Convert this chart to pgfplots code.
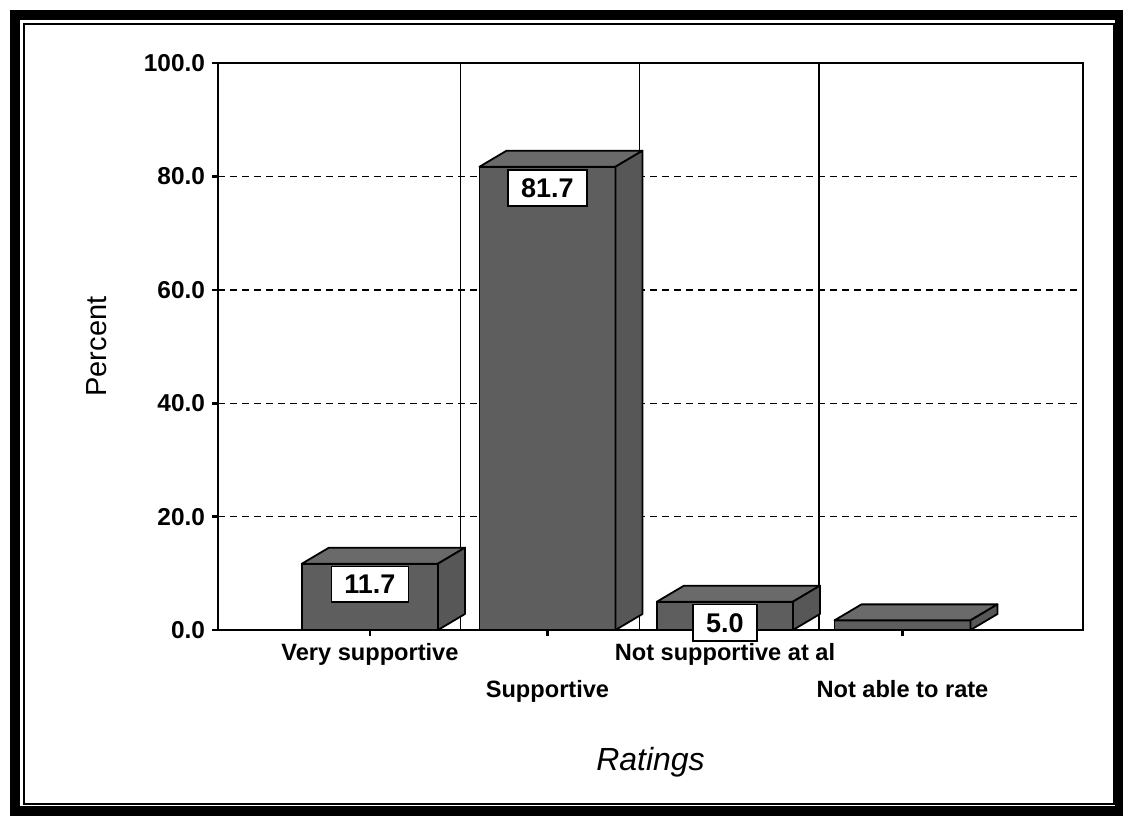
\documentclass[border=0pt]{standalone}
\usepackage{pgfplots}
\pgfplotsset{compat=1.18}
\usepackage{fontspec}
\setmainfont{Liberation Sans}
\definecolor{barfront}{HTML}{5E5E5E}
\definecolor{bartop}{HTML}{6A6A6A}
\definecolor{barside}{HTML}{575757}

\pgfdeclareplotmark{box3d}{%
  \pgfmathsetlengthmacro\bh{\barval*2.835pt}%
  \filldraw[fill=bartop, draw=black, line width=0.9pt, line join=round]
    (-34pt,0pt) -- (-20.5pt,8pt) -- (47.5pt,8pt) -- (34pt,0pt) -- cycle;
  \filldraw[fill=barside, draw=black, line width=0.9pt, line join=round]
    (34pt,0pt) -- (47.5pt,8pt) -- (47.5pt,{8pt-\bh}) -- (34pt,-\bh) -- cycle;
}

\begin{document}
\begin{tikzpicture}
\path[use as bounding box] (0,0) rectangle (561.5pt,407.5pt);
\begin{axis}[
  at={(109pt,92.5pt)}, anchor=south west,
  scale only axis, width=432.5pt, height=283.5pt,
  xmin=-0.856, xmax=4.017, ymin=0, ymax=100,
  xtick={0,1,2,3},
  xticklabels={{Very supportive},{\vphantom{Vy}\\Supportive},{Not supportive at al},{\vphantom{Vy}\\Not able to rate}},
  xticklabel style={align=center, font=\fontsize{11.8}{19}\selectfont\bfseries},
  ytick={0,20,...,100},
  yticklabel style={font=\fontsize{12.2}{14}\selectfont\bfseries,
    /pgf/number format/fixed, /pgf/number format/fixed zerofill,
    /pgf/number format/precision=1, /pgf/number format/assume math mode=true},
  ymajorgrids=true,
  major grid style={black, line width=0.7pt, dash pattern=on 3.5pt off 2.5pt},
  extra x ticks={0.51,1.52,2.53},
  extra x tick labels={},
  extra x tick style={grid=major, major grid style={solid, black, line width=0.7pt}, major tick length=0pt},
  tick pos=left, tick align=outside, major tick length=3pt,
  every tick/.style={black, line width=1.3pt},
  axis line style={black, line width=0.8pt},
  ylabel={Percent},
  ylabel style={at={(axis description cs:-0.140,0.5)}, anchor=center, font=\fontsize{14.5}{16}\selectfont},
  xlabel={Ratings},
  xlabel style={at={(axis description cs:0.5,-0.233)}, anchor=center, font=\fontsize{16}{18}\selectfont\itshape},
]
\addplot[ybar, bar width=68pt, fill=barfront, draw=black, line width=0.9pt]
  coordinates {(0,11.7) (1,81.7) (2,5.0) (3,1.7)};
\addplot[scatter, only marks, mark=box3d, visualization depends on={rawy \as \barval},
  scatter/use mapped color={draw=black, fill=black}]
  coordinates {(0,11.7) (1,81.7) (2,5.0) (3,1.7)};
\addplot[draw=none, point meta=y, nodes near coords,
  nodes near coords style={anchor=north, yshift=-1pt, fill=white, draw=black, line width=0.9pt,
    inner xsep=6.5pt, inner ysep=4.3pt, font=\fontsize{13.5}{15}\selectfont\bfseries,
    /pgf/number format/fixed, /pgf/number format/fixed zerofill,
    /pgf/number format/precision=1, /pgf/number format/assume math mode=true}]
  coordinates {(0,11.7) (1,81.7) (2,5.0)};
\end{axis}
\draw[line width=5pt] (7.5pt,2pt) rectangle (560pt,400pt);
\draw[line width=0.8pt] (12pt,5.5pt) rectangle (557pt,395.5pt);
\end{tikzpicture}
\end{document}
